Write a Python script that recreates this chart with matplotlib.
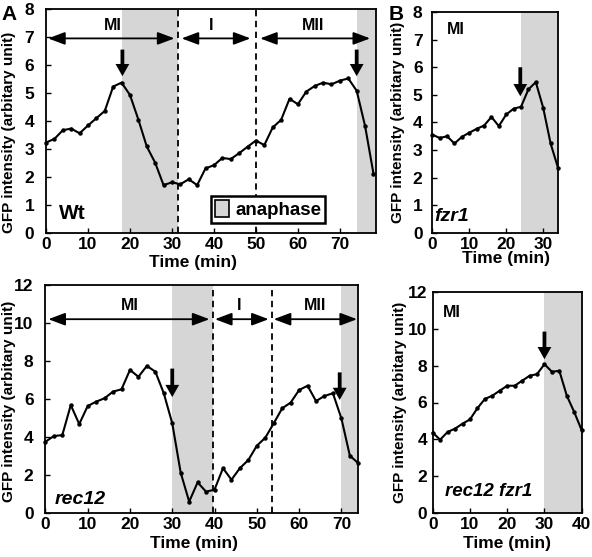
import numpy as np
import matplotlib
matplotlib.use("Agg")
import matplotlib.pyplot as plt
from matplotlib.patches import Patch

plt.rcParams['font.family'] = ['Liberation Sans', 'DejaVu Sans']
plt.rcParams['font.weight'] = 'bold'

# ---------------- data ----------------
wt_time = list(range(0, 80, 2))
wt_gfp = [3.23, 3.36, 3.67, 3.73, 3.56, 3.84, 4.10, 4.36, 5.23, 5.37,
          4.93, 4.05, 3.09, 2.51, 1.71, 1.81, 1.74, 1.92, 1.71, 2.31,
          2.42, 2.68, 2.64, 2.85, 3.08, 3.30, 3.14, 3.77, 4.04, 4.79,
          4.60, 5.05, 5.25, 5.37, 5.31, 5.44, 5.52, 5.08, 3.82, 2.12]

rec12_time = list(range(0, 76, 2))
rec12_gfp = [3.75, 4.05, 4.10, 5.68, 4.68, 5.63, 5.86, 6.04, 6.39, 6.51,
             7.53, 7.17, 7.74, 7.44, 6.30, 4.72, 2.12, 0.60, 1.61, 1.12,
             1.23, 2.36, 1.75, 2.36, 2.79, 3.54, 3.96, 4.72, 5.51, 5.81,
             6.47, 6.70, 5.89, 6.16, 6.30, 4.98, 3.02, 2.62]

fzr1_time = list(range(0, 36, 2))
fzr1_gfp = [3.56, 3.44, 3.50, 3.24, 3.48, 3.63, 3.77, 3.89, 4.20, 3.87,
            4.29, 4.50, 4.57, 5.20, 5.46, 4.53, 3.24, 2.36]

rf_time = list(range(0, 42, 2))
rf_gfp = [4.36, 3.98, 4.40, 4.58, 4.85, 5.08, 5.69, 6.19, 6.37, 6.64,
          6.91, 6.91, 7.18, 7.45, 7.54, 8.08, 7.67, 7.72, 6.37, 5.48, 4.49]

# phase boundaries (dashed lines), anaphase shading, arrows
wt_bounds = [31.5, 50]
wt_anaphase = [(18.2, 31.5), (74, 79)]
wt_phases = [("MI", 0.5, 30.6, 16), ("I", 32.3, 48.7, 39.4), ("MII", 51.0, 77.2, 63.5)]
wt_down = [(18.2, 6.55, 5.6), (74.0, 6.55, 5.6)]

rec12_bounds = [39.6, 53.6]
rec12_anaphase = [(30.0, 39.6), (70, 75)]
rec12_phases = [("MI", 0.7, 38.8, 20), ("I", 40.1, 52.8, 45.7), ("MII", 54.0, 73.7, 63.8)]
rec12_down = [(30.0, 7.6, 6.1), (69.6, 7.4, 5.95)]

fzr1_anaphase = [(24, 35)]
fzr1_down = [(23.8, 6.0, 4.95)]

rf_anaphase = [(30, 41)]
rf_down = [(30.0, 9.85, 8.35)]

SHADE = '#d6d6d6'
FS_TICK = 12.5

fig = plt.figure(figsize=(5.92, 5.57), dpi=100)

def px_axes(l, t, r, b):
    W, H = 592, 557
    return fig.add_axes([l / W, 1 - b / H, (r - l) / W, (b - t) / H])

axA1 = px_axes(46, 9, 376, 233)
axA2 = px_axes(45.4, 285, 358.3, 513)
axB1 = px_axes(432.3, 12, 558, 233)
axB2 = px_axes(432.7, 292, 581.7, 513)


def style(ax, xlim, ylim, xticks, yticks, ylab_xy, xlab_x, xlab_y, ypad=8.5):
    ax.set_xlim(*xlim)
    ax.set_ylim(*ylim)
    ax.set_xticks(xticks)
    ax.set_yticks(yticks)
    ax.tick_params(direction='in', length=3.5, width=1.0, labelsize=FS_TICK,
                   top=False, right=False)
    ax.tick_params(axis='y', pad=ypad)
    ax.tick_params(axis='x', pad=3)
    for s in ax.spines.values():
        s.set_linewidth(1.3)
    for lab in ax.get_xticklabels() + ax.get_yticklabels():
        lab.set_fontweight('bold')
    ax.set_ylabel('GFP intensity (arbitary unit)', fontsize=11, fontweight='bold')
    ax.set_xlabel('Time (min)', fontsize=12.5, fontweight='bold')
    ax.yaxis.set_label_coords(*ylab_xy)
    ax.xaxis.set_label_coords(xlab_x, xlab_y)


def shade(ax, spans):
    for a, b in spans:
        ax.axvspan(a, b, color=SHADE, lw=0, zorder=0)


def curve(ax, t, v):
    ax.plot(t, v, color='black', lw=1.5, marker='o', markersize=2.2,
            solid_joinstyle='round', zorder=3, clip_on=False)


def bounds(ax, xs):
    for x in xs:
        ax.axvline(x, color='black', lw=1.3, ls=(0, (3.5, 2.5)), zorder=2)


def phases(ax, items, y, ytxt):
    for name, a, b, xc in items:
        ax.annotate('', xy=(b, y), xytext=(a, y),
                    arrowprops=dict(arrowstyle='<|-|>,head_length=0.85,head_width=0.32',
                                    mutation_scale=12, lw=1.3, color='black',
                                    shrinkA=0, shrinkB=0), zorder=4)
        ax.text(xc, ytxt, name, ha='center', va='center', fontsize=11.5,
                fontweight='bold')


def down(ax, items):
    for x, ytop, ytip in items:
        ax.annotate('', xy=(x, ytip), xytext=(x, ytop),
                    arrowprops=dict(arrowstyle='simple,head_length=0.55,head_width=0.62,tail_width=0.17',
                                    mutation_scale=16, color='black', lw=0,
                                    shrinkA=0, shrinkB=0), zorder=5)


# ---- A top: Wt ----
ax = axA1
shade(ax, wt_anaphase)
bounds(ax, wt_bounds)
curve(ax, wt_time, wt_gfp)
phases(ax, wt_phases, 6.95, 7.4)
down(ax, wt_down)
style(ax, (0, 78.6), (0, 8), range(0, 80, 10), range(0, 9),
      (-0.09, 0.45), 0.445, -0.098)
ax.text(3.2, 0.49, 'Wt', fontsize=15, fontweight='bold', ha='left', va='baseline')
leg = ax.legend(handles=[Patch(facecolor=SHADE, edgecolor='black', lw=1.2)],
                labels=['anaphase'], loc='lower right',
                bbox_to_anchor=(0.846, 0.045), frameon=True, fancybox=False,
                prop={'weight': 'bold', 'size': 13.5}, handlelength=0.75,
                handleheight=1.05, handletextpad=0.35, borderpad=0.2,
                borderaxespad=0)
leg.get_frame().set_edgecolor('black')
leg.get_frame().set_linewidth(1.8)
leg.get_frame().set_alpha(1)

# ---- A bottom: rec12 ----
ax = axA2
shade(ax, rec12_anaphase)
bounds(ax, rec12_bounds)
curve(ax, rec12_time, rec12_gfp)
phases(ax, rec12_phases, 10.2, 10.9)
down(ax, rec12_down)
style(ax, (0, 74), (0, 12), range(0, 80, 10), range(0, 13, 2),
      (-0.094, 0.49), 0.475, -0.10)
ax.text(2.3, 0.5, 'rec12', fontsize=14, fontweight='bold', fontstyle='italic',
        ha='left', va='baseline')

# ---- B top: fzr1 ----
ax = axB1
shade(ax, fzr1_anaphase)
curve(ax, fzr1_time, fzr1_gfp)
down(ax, fzr1_down)
style(ax, (0, 34), (0, 8), range(0, 40, 10), range(0, 9),
      (-0.215, 0.5), 0.585, -0.082, ypad=7)
ax.text(6.3, 7.38, 'MI', ha='center', va='center', fontsize=11.5, fontweight='bold')
ax.text(0.5, 0.42, 'fzr1', fontsize=14, fontweight='bold', fontstyle='italic',
        ha='left', va='baseline')

# ---- B bottom: rec12 fzr1 ----
ax = axB2
shade(ax, rf_anaphase)
curve(ax, rf_time, rf_gfp)
down(ax, rf_down)
style(ax, (0, 40), (0, 12), range(0, 50, 10), range(0, 13, 2),
      (-0.172, 0.5), 0.5, -0.104, ypad=4)
ax.text(5.1, 10.9, 'MI', ha='center', va='center', fontsize=11.5, fontweight='bold')
ax.text(3.3, 0.9, 'rec12 fzr1', fontsize=13.5, fontweight='bold', fontstyle='italic',
        ha='left', va='baseline')

# panel letters
fig.text(1.5 / 592, 1 - 20 / 557, 'A', fontsize=15, fontweight='bold', ha='left', va='baseline')
fig.text(389 / 592, 1 - 20 / 557, 'B', fontsize=15, fontweight='bold', ha='left', va='baseline')

fig.savefig('out.png', dpi=100)
